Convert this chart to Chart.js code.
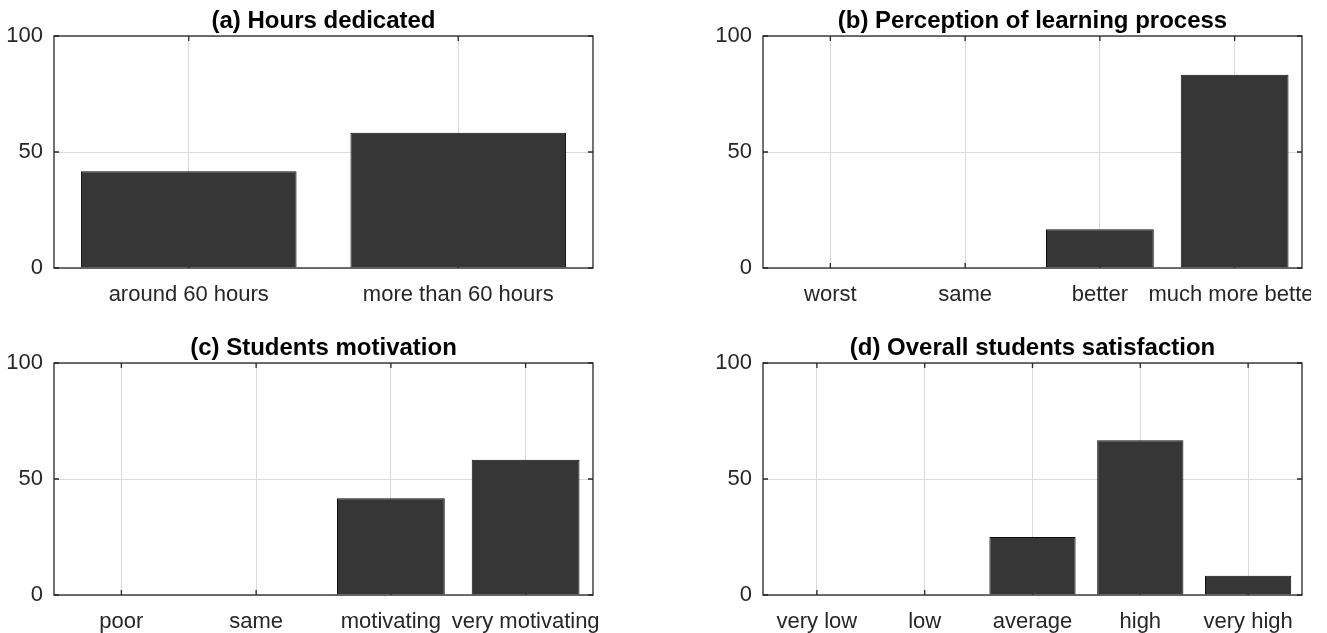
<!DOCTYPE html>
<html><head><meta charset="utf-8">
<script src="https://cdn.jsdelivr.net/npm/chart.js@4/dist/chart.umd.min.js"></script>
<style>
html,body{margin:0;padding:0;background:#fff;width:1327px;height:633px;overflow:hidden;position:relative;}
.p{position:absolute;overflow:hidden;}
.in{position:absolute;left:0;top:0;}
</style></head><body>
<div class="p" style="left:0;top:0;width:663px;height:320px"><div class="in" style="width:663px;height:320px"><canvas id="ca"></canvas></div></div>
<div class="p" style="left:680px;top:0;width:631px;height:320px"><div class="in" style="width:680px;height:320px"><canvas id="cb"></canvas></div></div>
<div class="p" style="left:0;top:320px;width:663px;height:313px"><div class="in" style="width:663px;height:313px"><canvas id="cc"></canvas></div></div>
<div class="p" style="left:680px;top:320px;width:631px;height:313px"><div class="in" style="width:680px;height:313px"><canvas id="cd"></canvas></div></div>
<script>
const hoursLabels = ['around 60 hours', 'more than 60 hours'];
const hoursValues = [41.7, 58.3];
const perceptionLabels = ['worst', 'same', 'better', 'much more better'];
const perceptionValues = [0, 0, 16.7, 83.3];
const motivationLabels = ['poor', 'same', 'motivating', 'very motivating'];
const motivationValues = [0, 0, 41.7, 58.3];
const satisfactionLabels = ['very low', 'low', 'average', 'high', 'very high'];
const satisfactionValues = [0, 0, 25, 66.7, 8.3];
const yTickValues = [0, 50, 100];

const FONT = "'Liberation Sans', Arial, Helvetica, sans-serif";

const boxPlugin = {
  id: 'matlabBox',
  beforeDatasetsDraw(chart) {
    const {ctx, chartArea: a, scales: {x, y}} = chart;
    ctx.save();
    ctx.strokeStyle = '#262626';
    ctx.lineWidth = 1.3;
    ctx.beginPath();
    x.ticks.forEach((t, i) => {
      const px = x.getPixelForTick(i);
      ctx.moveTo(px, a.bottom); ctx.lineTo(px, a.bottom - 5);
      ctx.moveTo(px, a.top); ctx.lineTo(px, a.top + 5);
    });
    y.ticks.forEach((t, i) => {
      const py = y.getPixelForTick(i);
      ctx.moveTo(a.left, py); ctx.lineTo(a.left + 5, py);
      ctx.moveTo(a.right, py); ctx.lineTo(a.right - 5, py);
    });
    ctx.stroke();
    ctx.strokeRect(a.left, a.top, a.right - a.left, a.bottom - a.top);
    ctx.restore();
  }
};

function makeChart(id, title, labels, values, lay) {
  return new Chart(document.getElementById(id), {
    type: 'bar',
    data: {
      labels: labels,
      datasets: [{
        data: values,
        backgroundColor: '#363636',
        borderColor: '#0d0d0d',
        borderWidth: 1,
        barPercentage: 0.8,
        categoryPercentage: 1.0
      }]
    },
    plugins: [boxPlugin],
    options: {
      responsive: true,
      maintainAspectRatio: false,
      animation: false,
      layout: { padding: { left: 0, right: lay.padRight, top: 0, bottom: 0 } },
      plugins: {
        legend: { display: false },
        tooltip: { enabled: false },
        title: {
          display: true,
          text: title,
          fullSize: false,
          color: '#000',
          font: { family: FONT, size: 24, weight: 'bold', lineHeight: 1.2 },
          padding: { top: lay.titleTop, bottom: lay.titleBottom }
        }
      },
      scales: {
        x: {
          offset: true,
          grid: { display: true, offset: false, color: '#dadada', lineWidth: 1, drawTicks: false },
          border: { display: false },
          ticks: {
            autoSkip: false, maxRotation: 0, minRotation: 0,
            padding: 14, color: '#262626',
            font: { family: FONT, size: 22 }
          },
          afterFit: s => { s.height = lay.xHeight; }
        },
        y: {
          min: 0, max: 100,
          grid: { color: '#dadada', lineWidth: 1, drawTicks: false },
          border: { display: false },
          ticks: { padding: 11, color: '#262626', font: { family: FONT, size: 22 } },
          afterBuildTicks: s => { s.ticks = yTickValues.map(v => ({ value: v })); },
          afterFit: s => { s.width = lay.yWidth; }
        }
      }
    }
  });
}

makeChart('ca', '(a) Hours dedicated', hoursLabels, hoursValues,
  { padRight: 70, yWidth: 54, xHeight: 52, titleTop: 6.6, titleBottom: 0.6 });
makeChart('cb', '(b) Perception of learning process', perceptionLabels, perceptionValues,
  { padRight: 58, yWidth: 83, xHeight: 52, titleTop: 6.6, titleBottom: 0.6 });
makeChart('cc', '(c) Students motivation', motivationLabels, motivationValues,
  { padRight: 70, yWidth: 54, xHeight: 38, titleTop: 14.2, titleBottom: 0 });
makeChart('cd', '(d) Overall students satisfaction', satisfactionLabels, satisfactionValues,
  { padRight: 58, yWidth: 83, xHeight: 38, titleTop: 14.2, titleBottom: 0 });
</script>
</body></html>
